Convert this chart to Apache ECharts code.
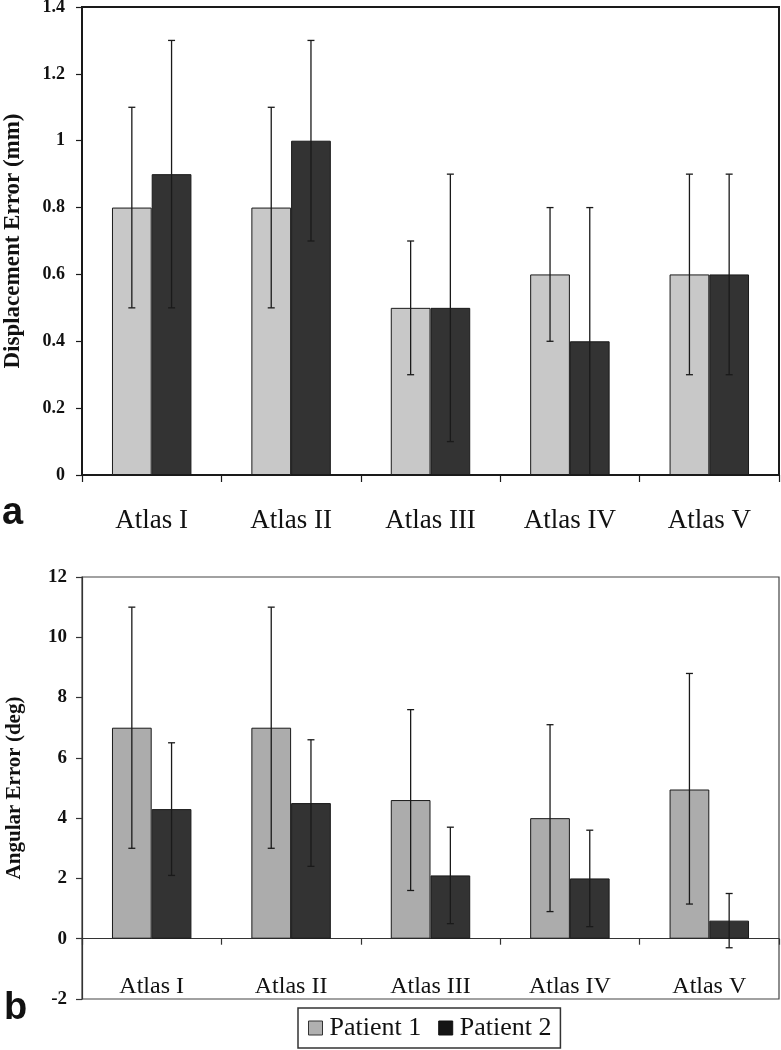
<!DOCTYPE html>
<html>
<head>
<meta charset="utf-8">
<script src="https://cdn.jsdelivr.net/npm/echarts@6/dist/echarts.min.js"></script>
<style>
html,body{margin:0;padding:0;background:#fff;}
#chart{width:781px;height:1050px;}
</style>
</head>
<body>
<div id="chart"></div>
<script>
// ---- data ----
const categories = ['Atlas I', 'Atlas II', 'Atlas III', 'Atlas IV', 'Atlas V'];
const seriesNames = ['Patient 1', 'Patient 2'];

// panel a: displacement error (mm)
const dispP1 = [0.8, 0.8, 0.5, 0.6, 0.6];
const dispP1Low = [0.5, 0.5, 0.3, 0.4, 0.3];
const dispP1High = [1.1, 1.1, 0.7, 0.8, 0.9];
const dispP2 = [0.9, 1.0, 0.5, 0.4, 0.6];
const dispP2Low = [0.5, 0.7, 0.1, 0.0, 0.3];
const dispP2High = [1.3, 1.3, 0.9, 0.8, 0.9];

// panel b: angular error (deg)
const angP1 = [7.0, 7.0, 4.6, 4.0, 4.95];
const angP1Low = [3.0, 3.0, 1.6, 0.9, 1.15];
const angP1High = [11.0, 11.0, 7.6, 7.1, 8.8];
const angP2 = [4.3, 4.5, 2.1, 2.0, 0.6];
const angP2Low = [2.1, 2.4, 0.5, 0.4, -0.3];
const angP2High = [6.5, 6.6, 3.7, 3.6, 1.5];

// ---- styling ----
const SERIF = "'Liberation Serif', 'Times New Roman', serif";
const BAR_FRAC = 0.285;

function errData(low, high) {
  return categories.map((c, i) => [i, low[i], high[i]]);
}

function errSeries(name, low, high, side, axisIdx) {
  return {
    type: 'custom',
    name: name,
    xAxisIndex: axisIdx,
    yAxisIndex: axisIdx,
    z: 5,
    silent: true,
    encode: { x: 0, y: [1, 2] },
    data: errData(low, high),
    renderItem: function (params, api) {
      const xi = api.value(0);
      const pLo = api.coord([xi, api.value(1)]);
      const pHi = api.coord([xi, api.value(2)]);
      const band = api.size([1, 0])[0];
      const x = pLo[0] + side * band * BAR_FRAC / 2;
      const cap = 3.5;
      const st = { stroke: '#1a1a1a', lineWidth: 1.3 };
      return {
        type: 'group',
        children: [
          { type: 'line', shape: { x1: x, y1: pLo[1], x2: x, y2: pHi[1] }, style: st },
          { type: 'line', shape: { x1: x - cap, y1: pHi[1], x2: x + cap, y2: pHi[1] }, style: st },
          { type: 'line', shape: { x1: x - cap, y1: pLo[1], x2: x + cap, y2: pLo[1] }, style: st }
        ]
      };
    }
  };
}

function barSeries(name, data, color, axisIdx) {
  return {
    type: 'bar',
    name: name,
    xAxisIndex: axisIdx,
    yAxisIndex: axisIdx,
    data: data,
    barWidth: (BAR_FRAC * 100) + '%',
    barGap: '0%',
    itemStyle: { color: color, borderColor: '#1a1a1a', borderWidth: 1 },
    emphasis: { disabled: true },
    z: 2
  };
}

const chart = echarts.init(document.getElementById('chart'), null, { renderer: 'canvas' });

const option = {
  backgroundColor: '#ffffff',
  animation: false,
  textStyle: { fontFamily: SERIF },
  grid: [
    { left: 82, right: 2, top: 7, bottom: 575, show: true, borderColor: '#1a1a1a', borderWidth: 2, containLabel: false, outerBoundsMode: 'none' },
    { left: 82, right: 2, top: 577, bottom: 51, show: true, borderColor: '#444', borderWidth: 1.2, containLabel: false, outerBoundsMode: 'none' }
  ],
  xAxis: [
    {
      type: 'category', gridIndex: 0, data: categories,
      axisLine: { show: true, lineStyle: { color: '#1a1a1a', width: 2 } },
      axisTick: { show: true, length: 7, alignWithLabel: false, lineStyle: { color: '#1a1a1a', width: 1.2 } },
      axisLabel: { color: '#111', fontFamily: SERIF, fontSize: 27, margin: 32 },
      splitLine: { show: false }
    },
    {
      type: 'category', gridIndex: 1, data: categories,
      axisLine: { show: true, onZero: true, lineStyle: { color: '#333', width: 1.2 } },
      axisTick: { show: true, length: 6, alignWithLabel: false, lineStyle: { color: '#333', width: 1.2 } },
      axisLabel: { color: '#111', fontFamily: SERIF, fontSize: 24, margin: -24 },
      splitLine: { show: false }
    }
  ],
  yAxis: [
    {
      type: 'value', gridIndex: 0, min: 0, max: 1.4, interval: 0.2,
      name: 'Displacement Error (mm)', nameLocation: 'middle', nameGap: 57,
      nameTextStyle: { fontFamily: SERIF, fontWeight: 'bold', fontSize: 23, color: '#111' },
      axisLine: { show: true, lineStyle: { color: '#1a1a1a', width: 1.5 } },
      axisTick: { show: true, length: 6, lineStyle: { color: '#1a1a1a', width: 1.2 } },
      axisLabel: { color: '#111', fontFamily: SERIF, fontWeight: 'bold', fontSize: 18, margin: 17 },
      splitLine: { show: false }
    },
    {
      type: 'value', gridIndex: 1, min: -2, max: 12, interval: 2,
      name: 'Angular Error (deg)', nameLocation: 'middle', nameGap: 57,
      nameTextStyle: { fontFamily: SERIF, fontWeight: 'bold', fontSize: 21, color: '#111' },
      axisLine: { show: true, lineStyle: { color: '#333', width: 1.2 } },
      axisTick: { show: true, length: 6, lineStyle: { color: '#333', width: 1.2 } },
      axisLabel: { color: '#111', fontFamily: SERIF, fontWeight: 'bold', fontSize: 19, margin: 15 },
      splitLine: { show: false }
    }
  ],
  legend: {
    left: 298, top: 1008,
    orient: 'horizontal',
    padding: [7, 9, 7, 10],
    itemGap: 17,
    itemWidth: 14, itemHeight: 14,
    borderColor: '#333', borderWidth: 1.5,
    icon: 'rect',
    selectedMode: false,
    textStyle: { fontFamily: SERIF, fontSize: 26, color: '#111', padding: [0, 0, 0, 2] },
    data: [
      { name: seriesNames[0], itemStyle: { color: '#b0b0b0', borderColor: '#333', borderWidth: 1 } },
      { name: seriesNames[1], itemStyle: { color: '#151515', borderColor: '#111', borderWidth: 1 } }
    ]
  },
  graphic: [
    { type: 'text', left: 2, top: 495, style: { text: 'a', font: "bold 38px 'Liberation Sans', Arial, sans-serif", fill: '#111' } },
    { type: 'text', left: 4, top: 990, style: { text: 'b', font: "bold 38px 'Liberation Sans', Arial, sans-serif", fill: '#111' } }
  ],
  series: [
    barSeries(seriesNames[0], dispP1, '#c8c8c8', 0),
    barSeries(seriesNames[1], dispP2, '#333333', 0),
    errSeries('errA1', dispP1Low, dispP1High, -1, 0),
    errSeries('errA2', dispP2Low, dispP2High, 1, 0),
    barSeries(seriesNames[0], angP1, '#acacac', 1),
    barSeries(seriesNames[1], angP2, '#333333', 1),
    errSeries('errB1', angP1Low, angP1High, -1, 1),
    errSeries('errB2', angP2Low, angP2High, 1, 1)
  ]
};

chart.setOption(option);
</script>
</body>
</html>
